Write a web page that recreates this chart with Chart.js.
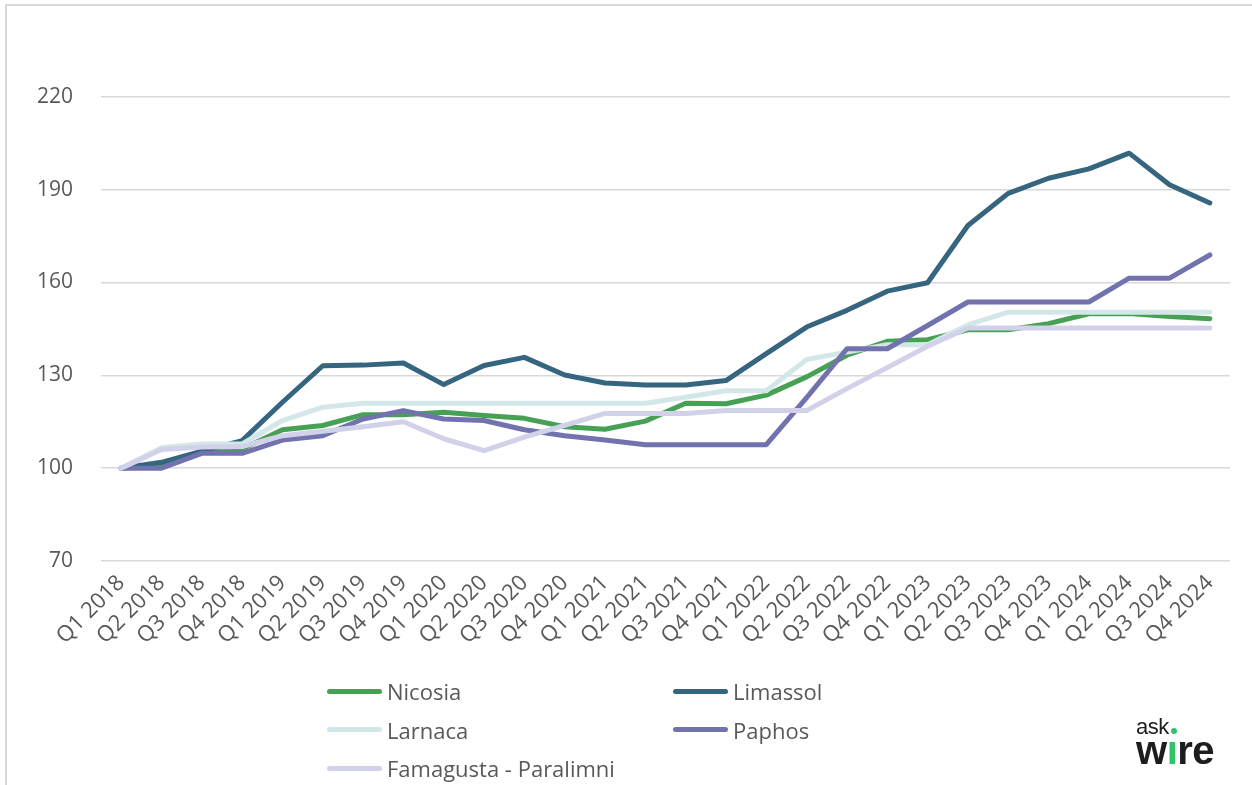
<!DOCTYPE html>
<html>
<head>
<meta charset="utf-8">
<script src="https://cdn.jsdelivr.net/npm/chart.js@4.4.1/dist/chart.umd.min.js"></script>
<style>
  html, body { margin:0; padding:0; background:#fff; }
  #wrap { position:relative; width:1252px; height:785px; overflow:hidden; font-family:'Open Sans', sans-serif; }
  #frame { position:absolute; left:5px; top:4px; width:1300px; height:900px; border:2px solid #d9d9d9; box-sizing:border-box; }
  #chartBox { position:absolute; left:0; top:0; width:1252px; height:785px; }
  #legend { position:absolute; left:327px; top:672px; display:grid; grid-template-columns:346px auto; grid-auto-rows:38.5px; }
  .leg-item { display:flex; align-items:center; font-size:22px; color:#595959; }
  .leg-line { width:55px; height:5px; border-radius:3px; margin-right:5px; }
  #logo { position:absolute; left:1136px; top:716px; color:#1d1d1d; line-height:1; }
  #logo .ask { font-family:'Liberation Sans', Arial, sans-serif; font-size:22px; letter-spacing:-0.5px; }
  #logo .dot { display:inline-block; width:6px; height:6px; border-radius:50%; background:#2fc46a; margin-left:2px; }
  #logo .wire { font-family:'Liberation Sans', Arial, sans-serif; font-weight:bold; font-size:40px; letter-spacing:-0.5px; display:block; margin-top:-8px; }
  #logo .wire span { color:#2fc46a; }
</style>
</head>
<body>
<div id="wrap">
  <div id="frame"></div>
  <div id="chartBox"><canvas id="chartPrecios"></canvas></div>
  <div id="legend"></div>
  <div id="logo"><span class="ask">ask</span><span class="dot"></span><span class="wire">w<span>ı</span>re</span></div>
</div>
<script>
const COLORES = { nicosia:'#47a155', limassol:'#35657f', larnaca:'#d3e7e8', paphos:'#7272ae', famagusta:'#d1d2ea' };

const trimestres = ['Q1 2018','Q2 2018','Q3 2018','Q4 2018','Q1 2019','Q2 2019','Q3 2019','Q4 2019',
  'Q1 2020','Q2 2020','Q3 2020','Q4 2020','Q1 2021','Q2 2021','Q3 2021','Q4 2021',
  'Q1 2022','Q2 2022','Q3 2022','Q4 2022','Q1 2023','Q2 2023','Q3 2023','Q4 2023',
  'Q1 2024','Q2 2024','Q3 2024','Q4 2024'];

const nicosia   = [100,101.2,105.2,106.2,112.4,113.8,117.3,117.3,118.1,117,116.1,113.4,112.6,115.2,121,120.8,123.6,129.5,136.5,141,141.5,144.7,144.7,146.7,149.9,150,149,148.3];
const limassol  = [100,101.9,105.5,108.9,121.3,133.1,133.3,134,127,133.2,135.8,130.1,127.5,126.9,126.9,128.3,137,145.6,151,157.2,159.9,178.4,188.8,193.7,196.7,201.8,191.6,185.7];
const larnaca   = [100,106.6,107.8,107.8,115.4,119.7,121,121,121,121,121,121,121,121,122.9,125,125,135.1,137.5,139.9,139.9,146.3,150.4,150.4,150.4,150.4,150.4,150.4];
const paphos    = [100,100,104.8,104.8,109.1,110.5,115.9,118.6,115.9,115.4,112.4,110.5,109.1,107.6,107.6,107.6,107.6,122.8,138.6,138.6,146.1,153.7,153.7,153.7,153.7,161.4,161.4,168.9];
const famagusta = [100,106,106.8,107,110.5,111.9,113.4,115,109.5,105.7,110,113.8,117.7,117.7,117.7,118.6,118.6,118.6,125.7,132.5,139.4,145.3,145.3,145.3,145.3,145.3,145.3,145.3];

const yTicks = { min:70, max:250, step:30 };

function serie(label, data, color, orden) {
  return { label, data, borderColor: color, backgroundColor: color, borderWidth: 5,
    pointRadius: 0, tension: 0, borderCapStyle: 'round', borderJoinStyle: 'round', order: orden };
}

const chart = new Chart(document.getElementById('chartPrecios'), {
  type: 'line',
  data: {
    labels: trimestres,
    datasets: [
      serie('Nicosia', nicosia, COLORES.nicosia, 5),
      serie('Limassol', limassol, COLORES.limassol, 4),
      serie('Larnaca', larnaca, COLORES.larnaca, 3),
      serie('Paphos', paphos, COLORES.paphos, 2),
      serie('Famagusta - Paralimni', famagusta, COLORES.famagusta, 1)
    ]
  },
  options: {
    responsive: true, maintainAspectRatio: false, animation: false,
    layout: { padding: { top: 4, right: 22, left: 0, bottom: 0 } },
    plugins: { legend: { display: false }, tooltip: { enabled: false } },
    scales: {
      x: {
        offset: true,
        grid: { display: false },
        border: { display: false },
        ticks: { autoSkip: false, minRotation: 45, maxRotation: 45, padding: 1, color: '#595959',
          font: { family: "'Open Sans', sans-serif", size: 22 } },
        afterFit: s => { s.height = 224; s.paddingLeft = 0; s.paddingRight = 0; s.paddingTop = 0; }
      },
      y: {
        min: yTicks.min, max: yTicks.max,
        border: { display: false },
        grid: { drawTicks: false, lineWidth: 1.5, color: c => c.tick && c.tick.value === yTicks.max ? 'rgba(0,0,0,0)' : '#d9d9d9' },
        ticks: { stepSize: yTicks.step, padding: 28, color: '#595959',
          font: { family: "'Open Sans', sans-serif", size: 21 },
          callback: v => v === yTicks.max ? '' : v },
        afterFit: s => { s.width = 101; s.paddingTop = 0; s.paddingBottom = 0; }
      }
    }
  }
});

// Leyenda en HTML (dos columnas)
document.getElementById('legend').innerHTML = chart.data.datasets.map(d =>
  `<div class="leg-item"><span class="leg-line" style="background:${d.borderColor}"></span>${d.label}</div>`).join('');
</script>
</body>
</html>
